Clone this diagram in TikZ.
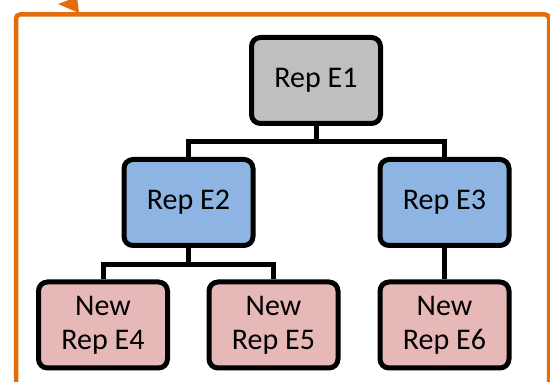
\documentclass[tikz,border=0pt]{standalone}
\usepackage{fontspec}
\setmainfont{Carlito}
\definecolor{frameorange}{HTML}{E46C0A}
\definecolor{rootgray}{HTML}{BFBFBF}
\definecolor{repblue}{HTML}{8EB4E3}
\definecolor{newpink}{HTML}{E6B9B8}
\tikzset{
  repbox/.style={draw=black, line width=5pt, rounded corners=9pt,
    minimum width=129pt, minimum height=86pt, inner sep=0pt,
    align=center, font=\fontsize{30}{34}\selectfont},
  link/.style={draw=black, line width=5pt},
  frameline/.style={draw=frameorange, line width=4.5pt}
}
\begin{document}
\begin{tikzpicture}[x=1pt, y=-1pt]
  \clip (0,0) rectangle (550,382);
  \fill[white] (0,0) rectangle (550,382);

  % outer orange frame with its arrowhead
  \draw[frameline, rounded corners=4pt] (16,400) |- (549,14.5) -- (549,400);
  \fill[frameorange] (58,4) -- (77,-3) -- (79,13) -- cycle;

  % tree of representatives
  \node[repbox, fill=rootgray] (e1) at (316,80.5) {Rep E1};
  \node[repbox, fill=repblue]  (e2) at (188.5,202.5) {Rep E2};
  \node[repbox, fill=repblue]  (e3) at (444.5,202.5) {Rep E3};
  \node[repbox, fill=newpink]  (e4) at (103,325) {New\\Rep E4};
  \node[repbox, fill=newpink]  (e5) at (273.5,325) {New\\Rep E5};
  \node[repbox, fill=newpink]  (e6) at (444.5,325) {New\\Rep E6};

  % connectors
  \coordinate (j1) at (316,141.5);
  \coordinate (j2) at (188.5,264.5);
  \draw[link] (e1.south) -- (j1);
  \draw[link] (j1) -| (e2.north);
  \draw[link] (j1) -| (e3.north);
  \draw[link] (e2.south) -- (j2);
  \draw[link] (j2) -| (e4.north);
  \draw[link] (j2) -| (e5.north);
  \draw[link] (e3.south) -- (e6.north);
\end{tikzpicture}
\end{document}
